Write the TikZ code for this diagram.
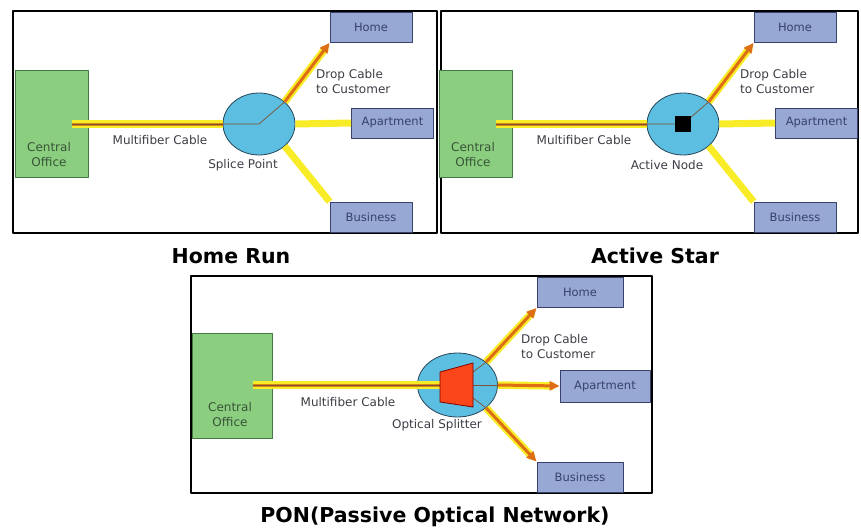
\documentclass[tikz,border=0pt]{standalone}
\usepackage{fontspec}
\setmainfont{DejaVu Sans}
\usetikzlibrary{shapes.geometric,arrows.meta}

\definecolor{officegreen}{RGB}{140,206,128}
\definecolor{officeedge}{RGB}{70,120,70}
\definecolor{officetext}{RGB}{55,85,55}
\definecolor{custblue}{RGB}{152,168,212}
\definecolor{custedge}{RGB}{55,65,105}
\definecolor{hubblue}{RGB}{92,190,224}
\definecolor{hubedge}{RGB}{40,70,90}
\definecolor{glow}{RGB}{248,236,40}
\definecolor{core}{RGB}{214,136,20}
\definecolor{dropcore}{RGB}{222,110,20}
\definecolor{wire}{RGB}{130,80,50}
\definecolor{splitred}{RGB}{250,70,25}
\definecolor{labeltext}{RGB}{60,60,70}

\tikzset{
  panel/.style={draw=black, line width=2.2pt},
  office/.style={draw=officeedge, fill=officegreen, line width=0.8pt,
    minimum width=73pt, minimum height=107pt, inner sep=0pt},
  cust/.style={draw=custedge, fill=custblue, line width=0.8pt,
    minimum width=82pt, minimum height=30pt, inner sep=0pt,
    text=custedge, font=\fontsize{11.5}{13}\selectfont},
  hub/.style={ellipse, draw=hubedge, fill=hubblue, line width=0.8pt, inner sep=0pt},
  lbl/.style={text=labeltext, font=\fontsize{12}{15}\selectfont, inner sep=0pt},
  heading/.style={font=\fontsize{20.5}{24}\selectfont\bfseries, inner sep=0pt},
  fiber/.style={draw=core, line width=3pt, preaction={draw=glow, line width=7.5pt},
    postaction={draw=wire, line width=0.7pt}},
  feed/.style={draw=glow, line width=7pt},
  drop/.style={draw=dropcore, line width=3pt, -{Triangle[length=10pt,width=9pt]},
    preaction={draw=glow, line width=7.5pt, -, shorten >=6pt}},
  thinwire/.style={draw=wire, line width=0.7pt},
}

\begin{document}
\begin{tikzpicture}[x=1pt, y=-1pt, line join=round]

  \useasboundingbox (0,0) rectangle (861,527);

  % Frames
  \draw[panel] (13,11) rectangle (437,233);
  \draw[panel] (441,11) rectangle (858,233);
  \draw[panel] (191,276) rectangle (652,493);

  % Home Run and Active Star (same layout)
  \foreach \p/\dx/\hubname/\ttl in {hr/0/Splice Point/Home Run, as/424/Active Node/Active Star} {
    \begin{scope}[xshift=\dx]
      \node[office] (\p-co) at (51.5,123.5) {};
      \node[lbl, text=officetext, align=center] (\p-colbl) at (49,155) {Central\\Office};
      \node[cust] (\p-home) at (371,27.5) {Home};
      \node[cust] (\p-apt) at (392.5,123) {Apartment};
      \node[cust] (\p-biz) at (371,217) {Business};
      \node[hub, minimum width=72pt, minimum height=62pt] (\p-hub) at (259,124) {};
      \coordinate (\p-in) at (72,124);

      % Cables
      \draw[fiber] (\p-in) -- (\p-hub.west);
      \draw[thinwire] (\p-hub.west) -- (\p-hub.center) -- (\p-hub.north east);
      \draw[drop] (\p-hub.north east) -- (\p-home.south west);
      \draw[feed] (\p-hub.east) -- (\p-apt.west);
      \draw[feed] (\p-hub.south east) -- (\p-biz.north west);

      % Labels
      \node[lbl] (\p-fiberlbl) at (160,140) {Multifiber Cable};
      \node[lbl] (\p-hublbl) at (243,165) {\hubname};
      \node[lbl, anchor=west, align=left] (\p-droplbl) at (316,82) {Drop Cable\\to Customer};
      \node[heading] (\p-title) at (231,256) {\ttl};
    \end{scope}
  }

  % Active node box
  \node[fill=black, minimum size=16pt, inner sep=0pt] (as-node) at (as-hub) {};

  % PON
  \node[office, minimum width=80pt, minimum height=105pt] (pon-co) at (232,385.5) {};
  \node[lbl, text=officetext, align=center] (pon-colbl) at (230,415) {Central\\Office};
  \node[cust, minimum width=86pt] (pon-home) at (580,292.5) {Home};
  \node[cust, minimum width=90pt, minimum height=32pt] (pon-apt) at (605,386) {Apartment};
  \node[cust, minimum width=86pt] (pon-biz) at (580,477) {Business};
  \node[hub, minimum width=80pt, minimum height=64pt] (pon-hub) at (457.5,385) {};
  \coordinate (pon-in) at (253,385);
  \coordinate (pon-splitin) at (440,385);

  \draw[fiber] (pon-in) -- (pon-splitin);
  \draw[thinwire] (473,372) -- (pon-hub.north east);
  \draw[thinwire] (473,385) -- (pon-hub.east);
  \draw[thinwire] (473,398) -- (pon-hub.south east);
  % Splitter
  \draw[draw=red!50!black, fill=splitred, line width=0.8pt]
    (440,372) -- (473,363) -- (473,407) -- (440,402) -- cycle;

  \draw[drop] (pon-hub.north east) -- (pon-home.south west);
  \draw[drop] (pon-hub.east) -- (pon-apt.west);
  \draw[drop] (pon-hub.south east) -- (pon-biz.north west);

  \node[lbl] (pon-fiberlbl) at (348,402) {Multifiber Cable};
  \node[lbl] (pon-hublbl) at (437,425) {Optical Splitter};
  \node[lbl, anchor=west, align=left] (pon-droplbl) at (521,347) {Drop Cable\\to Customer};
  \node[heading] (pon-title) at (435,517) {PON(Passive Optical Network)};

\end{tikzpicture}
\end{document}
